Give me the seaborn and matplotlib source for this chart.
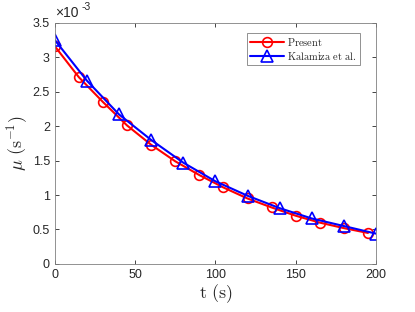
import numpy as np
import pandas as pd
import seaborn as sns
import matplotlib
matplotlib.use("Agg")
import matplotlib.pyplot as plt
from matplotlib.ticker import FuncFormatter

# Present model: every 15 s
t_present = [0, 15, 30, 45, 60, 75, 90, 105, 120, 135, 150, 165, 180, 195]
mu_present = [3.16e-3, 2.71e-3, 2.35e-3, 2.01e-3, 1.73e-3, 1.49e-3, 1.29e-3,
              1.11e-3, 0.95e-3, 0.82e-3, 0.70e-3, 0.60e-3, 0.52e-3, 0.45e-3]

# Kalamiza et al.: every 20 s
t_kal = [0, 20, 40, 60, 80, 100, 120, 140, 160, 180, 200]
mu_kal = [3.25e-3, 2.66e-3, 2.17e-3, 1.80e-3, 1.47e-3, 1.20e-3, 0.99e-3,
          0.81e-3, 0.66e-3, 0.55e-3, 0.44e-3]

df_present = pd.DataFrame({"t": t_present, "mu": mu_present})
df_kal = pd.DataFrame({"t": t_kal, "mu": mu_kal})

sns.set_style("ticks")
plt.rcParams["font.family"] = ["Liberation Sans", "DejaVu Sans"]
plt.rcParams["mathtext.fontset"] = "cm"

fig = plt.figure(figsize=(4.15, 3.12), dpi=100)
ax = fig.add_axes([0.132, 0.154, 0.774, 0.773])

sns.lineplot(data=df_present, x="t", y="mu", ax=ax, color="red", linewidth=1.5,
             marker="o", markersize=7, markerfacecolor="none",
             markeredgecolor="red", markeredgewidth=1.2, label=r"$\mathrm{Present}$")
sns.lineplot(data=df_kal, x="t", y="mu", ax=ax, color="blue", linewidth=1.5,
             marker="^", markersize=8, markerfacecolor="none",
             markeredgecolor="blue", markeredgewidth=1.2,
             label=r"$\mathrm{Kalamiza\ et\ al.}$")

ax.set_xlim(0, 200)
ax.set_ylim(0, 3.5e-3)
ax.set_xticks([0, 50, 100, 150, 200])
ax.set_yticks(np.arange(0, 3.51e-3, 0.5e-3))
ax.yaxis.set_major_formatter(FuncFormatter(lambda v, p: "%g" % round(v * 1e3, 2)))

gray = "#262626"
for s in ax.spines.values():
    s.set_visible(True)
    s.set_color("#808080")
    s.set_linewidth(0.6)
ax.tick_params(direction="in", length=3, width=0.6, color=gray,
               labelsize=9, labelcolor=gray, top=True, right=True)

ax.set_xlabel(r"$\mathrm{t\ (s)}$", fontsize=13, color=gray, labelpad=1)
ax.set_ylabel(r"$\mu\ \mathrm{(s^{-1})}$", fontsize=13, color=gray, labelpad=2)
# exponent label above the y axis
ax.text(0.0, 1.01, "\u00d710", transform=ax.transAxes, fontsize=10,
        color=gray, ha="left", va="bottom")
ax.text(0.083, 1.045, "-3", transform=ax.transAxes, fontsize=7.5,
        color=gray, ha="left", va="bottom")

leg = ax.legend(loc="upper right", fontsize=7.5, frameon=True, fancybox=False,
                framealpha=1, edgecolor="#808080", handlelength=3.2,
                borderpad=0.3, labelspacing=0.2, handletextpad=0.3,
                bbox_to_anchor=(0.965, 0.98))
leg.get_frame().set_linewidth(0.6)

fig.savefig("out.png", dpi=100)
